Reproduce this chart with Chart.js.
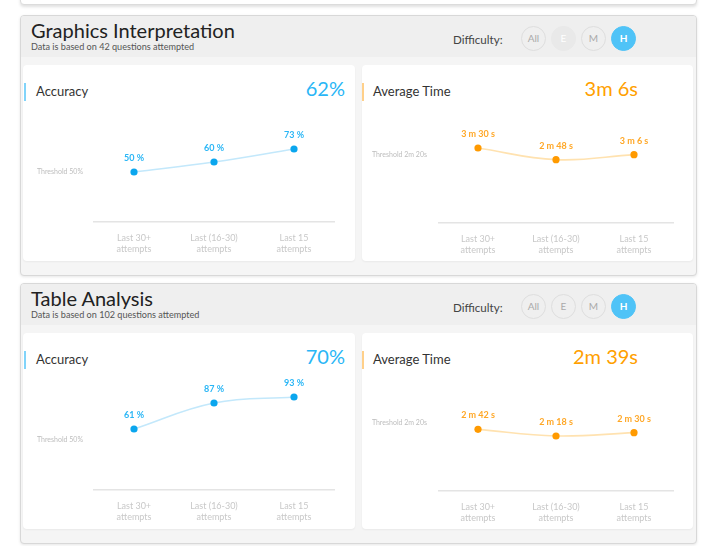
<!DOCTYPE html>
<html>
<head>
<meta charset="utf-8">
<script src="https://cdn.jsdelivr.net/npm/chart.js@4.4.1/dist/chart.umd.min.js"></script>
<style>
    body { margin: 0; width: 706px; height: 546px; overflow: hidden; background: #fff; font-family: Lato, "Open Sans", sans-serif; position: relative; }
    .top-card { position: absolute; left: 20px; top: -40px; width: 677px; height: 45px; box-sizing: border-box; border: 1px solid #dcdcdc; border-radius: 4px; background: #fff; box-shadow: 0 2px 3px rgba(0,0,0,.12); }
    .panel { position: absolute; left: 20px; width: 677px; height: 261px; box-sizing: border-box; border: 1px solid #d8d8d8; border-radius: 4px; background: #f5f5f5; box-shadow: 0 1px 3px rgba(0,0,0,.10); overflow: hidden; }
    .head { position: absolute; left: 0; top: 0; width: 100%; height: 41px; background: #efefef; }
    .title { position: absolute; left: 10px; top: 2px; font-size: 20px; line-height: 24px; color: #222; white-space: nowrap; }
    .sub { position: absolute; left: 10px; top: 26px; font-size: 9.1px; line-height: 10px; color: #555; white-space: nowrap; }
    .diff-label { position: absolute; left: 432px; top: 17px; font-size: 11.6px; line-height: 14px; color: #444; }
    .diff { position: absolute; left: 500px; top: 10px; display: flex; }
    .diff span { width: 25px; height: 25px; box-sizing: border-box; border: 1.5px solid #dedede; border-radius: 50%; margin-right: 5px; font-size: 10px; line-height: 22px; text-align: center; color: #aaa; }
    .diff span.off { background: #e9e9e9; border-color: #e9e9e9; color: #fff; }
    .diff span.on { background: #4fc3f7; border-color: #4fc3f7; color: #fff; font-weight: bold; }
    .card { position: absolute; top: 49px; height: 196px; background: #fff; border-radius: 4px; box-shadow: 0 1px 2px rgba(0,0,0,.05); }
    .card.left { left: 2px; width: 332px; }
    .card.right { left: 341px; width: 331px; }
    .accent { position: absolute; top: 18px; width: 2px; height: 18px; }
    .left .accent { left: 1px; background: #81d4fa; }
    .right .accent { left: 0; background: #ffd08a; }
    .card-title { position: absolute; top: 18px; font-size: 13px; line-height: 16px; color: #333; }
    .left .card-title { left: 13px; }
    .right .card-title { left: 11px; }
    .value { position: absolute; top: 11px; font-size: 20px; line-height: 24px; }
    .left .value { right: 10px; color: #29b6f6; }
    .right .value { right: 55px; color: #ffa000; }
    canvas { position: absolute; top: 45px; }
    .left canvas { left: 1px; }
    .right canvas { left: 0; }
</style>
</head>
<body>
<div class="top-card"></div>

<div class="panel" style="top:15px">
    <div class="head">
        <div class="title">Graphics Interpretation</div>
        <div class="sub">Data is based on 42 questions attempted</div>
        <div class="diff-label">Difficulty:</div>
        <div class="diff"><span>All</span><span class="off">E</span><span>M</span><span class="on">H</span></div>
    </div>
    <div class="card left">
        <div class="accent"></div>
        <div class="card-title">Accuracy</div>
        <div class="value">62%</div>
        <canvas id="giAccuracyChart" width="330" height="150"></canvas>
    </div>
    <div class="card right">
        <div class="accent"></div>
        <div class="card-title">Average Time</div>
        <div class="value">3m 6s</div>
        <canvas id="giTimeChart" width="330" height="150"></canvas>
    </div>
</div>

<div class="panel" style="top:283px">
    <div class="head">
        <div class="title">Table Analysis</div>
        <div class="sub">Data is based on 102 questions attempted</div>
        <div class="diff-label">Difficulty:</div>
        <div class="diff"><span>All</span><span>E</span><span>M</span><span class="on">H</span></div>
    </div>
    <div class="card left">
        <div class="accent"></div>
        <div class="card-title">Accuracy</div>
        <div class="value">70%</div>
        <canvas id="taAccuracyChart" width="330" height="150"></canvas>
    </div>
    <div class="card right">
        <div class="accent"></div>
        <div class="card-title">Average Time</div>
        <div class="value">2m 39s</div>
        <canvas id="taTimeChart" width="330" height="150"></canvas>
    </div>
</div>

<script>
// Datos de los graficos
const categories = [['Last 30+', 'attempts'], ['Last (16-30)', 'attempts'], ['Last 15', 'attempts']];
const giAccuracy = [50, 60, 73];     // %
const giTime = [210, 168, 186];      // segundos
const taAccuracy = [61, 87, 93];
const taTime = [162, 138, 150];
const accuracyThreshold = 50;
const timeThresholdTick = 185;       // donde aparece la etiqueta del umbral

function fmtTime(s) {
    return Math.floor(s / 60) + ' m ' + (s % 60) + ' s';
}

// Etiquetas encima de cada punto
function labelPlugin(color, format) {
    return {
        id: 'pointLabels',
        afterDatasetsDraw(chart) {
            const ctx = chart.ctx;
            const meta = chart.getDatasetMeta(0);
            const data = chart.data.datasets[0].data;
            ctx.save();
            ctx.font = 'bold 9px Lato';
            ctx.fillStyle = color;
            ctx.textAlign = 'center';
            ctx.textBaseline = 'middle';
            meta.data.forEach((pt, i) => ctx.fillText(format(data[i]), pt.x, pt.y - 14));
            ctx.restore();
        }
    };
}

function lineChart(id, values, kind) {
    const acc = kind === 'accuracy';
    return new Chart(document.getElementById(id), {
        type: 'line',
        data: {
            labels: categories,
            datasets: [{
                data: values,
                borderColor: acc ? '#c3e8fb' : '#ffe2b0',
                borderWidth: 1.6,
                tension: 0.4,
                pointRadius: 3.6,
                pointBackgroundColor: acc ? '#0aa6ee' : '#ff9a00',
                pointBorderWidth: 0,
                fill: false
            }]
        },
        options: {
            responsive: false,
            animation: false,
            events: [],
            layout: { padding: acc ? { top: 12, right: 20 } : { top: 13, right: 19 } },
            plugins: { legend: { display: false }, tooltip: { enabled: false } },
            scales: {
                x: {
                    offset: true,
                    grid: { display: false },
                    border: { color: '#e4e4e4', width: 1.5 },
                    ticks: {
                        color: '#c8c8c8',
                        font: { family: 'Lato', size: 9, lineHeight: 1.25 },
                        padding: 2,
                        maxRotation: 0,
                        autoSkip: false
                    },
                    afterFit: s => { s.height = acc ? 38 : 37; }
                },
                y: {
                    min: acc ? 0 : -60,
                    max: acc ? 100 : 300,
                    grid: { display: false },
                    border: { display: false },
                    ticks: {
                        color: '#bdbdbd',
                        font: { family: 'Lato', size: 7 },
                        padding: acc ? 3 : 4,
                        callback: () => acc ? 'Threshold ' + accuracyThreshold + '%' : 'Threshold 2m 20s'
                    },
                    afterBuildTicks: s => { s.ticks = [{ value: acc ? accuracyThreshold : timeThresholdTick }]; },
                    afterFit: s => { s.width = acc ? 70 : 77; }
                }
            }
        },
        plugins: [acc ? labelPlugin('#29b6f6', v => v + ' %') : labelPlugin('#ffa726', fmtTime)]
    });
}

lineChart('giAccuracyChart', giAccuracy, 'accuracy');
lineChart('giTimeChart', giTime, 'time');
lineChart('taAccuracyChart', taAccuracy, 'accuracy');
lineChart('taTimeChart', taTime, 'time');
</script>
</body>
</html>
